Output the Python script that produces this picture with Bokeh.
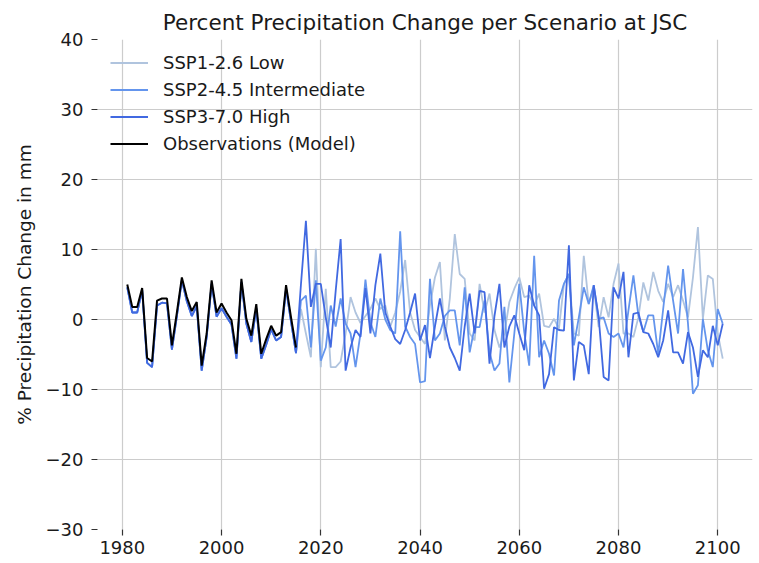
from bokeh.plotting import figure
from bokeh.models import Range1d, Legend, LegendItem, FixedTicker, CustomJSTickFormatter
from bokeh.embed import file_html
from bokeh.resources import INLINE

# ---------------- data ----------------
years_obs = list(range(1981, 2016))
years_ssp = list(range(1981, 2102))

observations = [5.0, 1.8, 1.8, 4.5, -5.5, -6.0, 2.7, 3.0, 3.0, -3.7,
                1.0, 6.0, 3.2, 1.2, 2.5, -6.6, -2.0, 5.6, 1.0, 2.3,
                1.0, -0.1, -4.9, 5.8, 0.1, -2.3, 2.2, -4.9, -2.8, -0.9,
                -2.3, -1.8, 4.9, 0.3, -4.0]

# modelled historical period shared by all scenarios (1981-2015)
hist_model = [4.6, 1.0, 1.0, 4.2, -6.2, -6.8, 2.0, 2.4, 2.3, -4.3,
              0.5, 5.6, 2.6, 0.5, 1.9, -7.3, -2.5, 5.1, 0.4, 1.6,
              0.4, -0.7, -5.6, 5.3, -0.6, -3.2, 1.6, -5.6, -3.6, -1.4,
              -3.0, -2.5, 4.4, -0.3, -4.8]

# scenario projections 2016-2101
ssp1_future = [1.5, -2.0, -5.4, 10.1, -6.8, 4.4, -6.8, -6.8, -6.0, -2.0,
               3.2, 1.0, -0.5, 0.5, 1.5, 3.0, 1.5, 2.0, -1.0, 1.0,
               4.0, 8.5, 1.0, -1.5, -2.5, -3.5, 2.0, 6.0, 8.2, -3.0,
               3.0, 12.2, 6.5, 5.8, -2.0, -3.0, 5.1, 1.0, 3.7, -1.5,
               -4.0, -2.0, 2.5, 4.4, 6.0, 3.2, 3.4, 2.0, 3.7, -0.9,
               -1.1, 0.1, -1.3, 5.1, 6.5, -2.0, -2.3, 9.1, 2.2, 4.6,
               -1.1, 3.2, 0.3, 5.1, 8.0, -2.0, -2.0, -2.5, 0.3, 5.3,
               2.7, 6.8, 4.1, 2.5, 5.1, 3.2, 4.9, 2.7, 0.3, 6.0,
               13.2, 0.1, 6.3, 5.8, -2.0, -5.6]

ssp2_future = [2.7, 3.4, -4.0, 5.6, -5.9, -4.0, 2.0, -1.0, 3.0, -0.6,
               -2.0, -6.8, -2.0, 5.7, -0.4, -2.5, 3.0, 0.0, -1.5, -2.0,
               12.6, -1.0, -2.5, -3.5, -9.0, -8.8, 5.8, -3.0, -2.0, 0.5,
               1.3, 1.3, -3.7, 4.6, -4.7, -1.1, -1.1, 2.7, -4.7, -7.3,
               -6.3, 1.8, -9.0, -2.0, 5.1, -1.8, -6.6, 9.1, -5.4, -3.0,
               -4.9, -8.0, 2.7, 5.1, 6.5, -3.7, 0.3, 4.6, 2.2, 4.9,
               0.1, 0.3, -2.0, -2.5, -2.0, -4.0, 1.3, 6.3, 0.6, -1.8,
               0.6, 0.6, -4.9, 1.5, 7.7, 2.7, -2.0, 7.2, -0.6, -10.6,
               -9.4, 0.1, -4.4, -6.8, 1.5, -0.6]

ssp3_future = [5.0, 14.1, 1.8, 5.1, 5.1, 0.3, -4.0, 4.1, 11.5, -7.3,
               -4.0, -1.5, -2.5, 4.5, -2.0, 4.9, 9.4, 1.0, -1.0, -2.8,
               -3.5, -1.5, 1.0, 3.7, -3.0, -0.8, -5.5, -1.0, 3.0, -1.0,
               -4.0, -5.5, -7.3, -1.0, 3.7, -2.0, 4.1, 3.9, -6.3, 0.5,
               5.1, -4.0, -1.0, 0.6, -2.0, -4.4, 4.9, 2.0, 0.6, -9.9,
               -7.8, -1.1, -1.5, -1.6, 10.6, -8.7, -3.2, -3.7, -7.8, 4.9,
               0.3, -8.2, -8.7, 4.6, 3.0, 6.8, -5.4, 0.8, 1.0, -1.8,
               -2.0, -3.5, -5.4, -3.0, 1.3, -4.7, -4.7, -6.3, -1.8, -4.0,
               -8.2, -4.4, -5.4, -0.9, -3.7, -0.6]

labels = ["SSP1-2.6 Low", "SSP2-4.5 Intermediate", "SSP3-7.0 High", "Observations (Model)"]
colors = ["#b0c4de", "#6495ed", "#4169e1", "#000000"]
x_ticks = [1980, 2000, 2020, 2040, 2060, 2080, 2100]
y_ticks = [-30, -20, -10, 0, 10, 20, 30, 40]

ssp1 = hist_model + ssp1_future
ssp2 = hist_model + ssp2_future
ssp3 = hist_model + ssp3_future

FONT = "DejaVu Sans"
TXT = "#1a1a1a"

p = figure(frame_width=655, frame_height=490,
           x_range=Range1d(1975, 2107), y_range=Range1d(-30, 40),
           output_backend="svg", toolbar_location=None,
           min_border_left=97, min_border_right=7, min_border_top=39, min_border_bottom=34,
           title="Percent Precipitation Change per Scenario at JSC")

p.title.text_font = FONT
p.title.text_font_size = "21.5px"
p.title.text_font_style = "normal"
p.title.text_color = TXT
p.title.align = "center"

p.outline_line_color = None
p.background_fill_color = "white"
p.border_fill_color = "white"

p.xaxis.ticker = FixedTicker(ticks=x_ticks)
p.yaxis.ticker = FixedTicker(ticks=y_ticks)
p.yaxis.formatter = CustomJSTickFormatter(
    code="return tick < 0 ? '\\u2212' + Math.abs(tick) : String(tick);")

for ax in (p.xaxis, p.yaxis):
    ax.axis_line_color = None
    ax.major_tick_line_color = "#333333"
    ax.major_tick_line_width = 1.2
    ax.major_tick_in = 0
    ax.major_tick_out = 6
    ax.minor_tick_line_color = None
    ax.major_label_text_font = FONT
    ax.major_label_text_font_size = "18px"
    ax.major_label_text_color = TXT

p.xaxis.major_label_standoff = 5
p.yaxis.major_label_standoff = 8
p.yaxis.axis_label = "% Precipitation Change in mm"
p.yaxis.axis_label_text_font = FONT
p.yaxis.axis_label_text_font_size = "18.5px"
p.yaxis.axis_label_text_font_style = "normal"
p.yaxis.axis_label_text_color = TXT
p.yaxis.axis_label_standoff = 8

p.grid.grid_line_color = "#cccccc"
p.grid.grid_line_width = 1.2

r1 = p.line(years_ssp, ssp1, line_color=colors[0], line_width=1.8)
r2 = p.line(years_ssp, ssp2, line_color=colors[1], line_width=1.8)
r3 = p.line(years_ssp, ssp3, line_color=colors[2], line_width=1.8)
r4 = p.line(years_obs, observations, line_color=colors[3], line_width=2)

legend = Legend(items=[LegendItem(label=labels[0], renderers=[r1]),
                       LegendItem(label=labels[1], renderers=[r2]),
                       LegendItem(label=labels[2], renderers=[r3]),
                       LegendItem(label=labels[3], renderers=[r4])],
                location="top_left", background_fill_alpha=0, border_line_alpha=0,
                label_text_font=FONT, label_text_font_size="18px", label_text_color=TXT,
                glyph_width=38, glyph_height=21, label_height=21, spacing=6,
                label_standoff=15, padding=5, margin=8)
p.add_layout(legend)

open("out.html", "w").write(file_html(p, INLINE))
